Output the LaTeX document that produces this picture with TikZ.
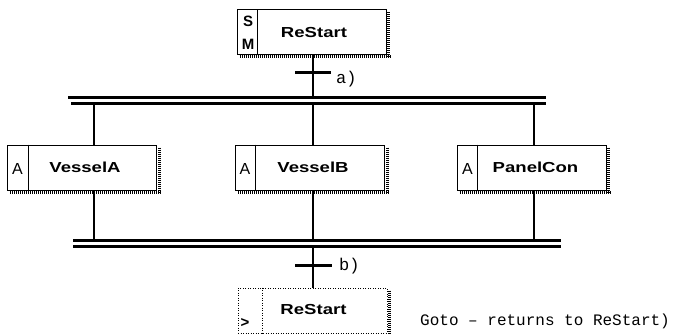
\documentclass[tikz,border=0pt]{standalone}
\usepackage{fontspec}
\setmainfont{Liberation Sans}
\newfontfamily\labfont[FakeStretch=1.28]{Liberation Sans}
\newfontfamily\monofont{Liberation Mono}
\begin{document}
\begin{tikzpicture}[x=1pt,y=-1pt,
  stepbox/.style={draw, line width=1pt, minimum width=149pt, minimum height=45pt, inner sep=0pt,
    font=\labfont\bfseries\fontsize{14.5}{14.5}\selectfont},
  gotobox/.style={stepbox, draw, dash pattern=on 1pt off 1.5pt},
  shadowline/.style={line width=3pt, dash pattern=on 1pt off 1pt},
  divider/.style={line width=1pt},
  dotdivider/.style={line width=1pt, dash pattern=on 1pt off 1.5pt},
  qual/.style={inner sep=0pt, font=\fontsize{16}{16}\selectfont},
  bqual/.style={inner sep=0pt, font=\bfseries\fontsize{15}{15}\selectfont},
  conn/.style={line width=2.5pt},
  bar/.style={line width=3pt},
  translabel/.style={inner sep=0pt, anchor=west, font=\monofont\fontsize{17}{17}\selectfont},
]
\useasboundingbox (0,0) rectangle (679,334);
% step boxes
\node[stepbox] (top) at (311.5,32.5) {\hspace*{5pt}ReStart};
\node[stepbox] (va) at (82,167.5) {\hspace*{6pt}VesselA};
\node[stepbox] (vb) at (310,167.5) {\hspace*{6pt}VesselB};
\node[stepbox] (pc) at (531.5,167.5) {\hspace*{8pt}PanelCon};
\node[gotobox] (bot) at (312.5,310.5) {\raisebox{2pt}{\hspace*{2pt}ReStart}};
% shadows
\foreach \n in {top,va,vb,pc,bot}{
  \draw[shadowline] ([xshift=2pt,yshift=-3pt]\n.north east) -- ([xshift=2pt,yshift=-1.5pt]\n.south east);
  \draw[shadowline] ([xshift=3pt,yshift=-1.5pt]\n.south west) -- ([xshift=3.5pt,yshift=-1.5pt]\n.south east);
}
% dividers
\draw[divider] ([xshift=21pt]top.north west) -- ([xshift=21pt]top.south west);
\draw[divider] ([xshift=21pt]va.north west) -- ([xshift=21pt]va.south west);
\draw[divider] ([xshift=20pt]vb.north west) -- ([xshift=20pt]vb.south west);
\draw[divider] ([xshift=21pt]pc.north west) -- ([xshift=21pt]pc.south west);
\draw[dotdivider] ([xshift=25pt]bot.north west) -- ([xshift=25pt]bot.south west);
% qualifiers
\node[bqual] (qs) at (248,21) {S};
\node[bqual] (qm) at (248,44) {M};
\node[qual] (qa1) at (17.5,169) {A};
\node[qual] (qa2) at (245,169) {A};
\node[qual] (qa3) at (467.5,169) {A};
\node[bqual] (qj) at (245,323) {>};
% double bars
\coordinate (d1aL) at (68,97.5);  \coordinate (d1aR) at (546,97.5);
\coordinate (d1bL) at (71,104);   \coordinate (d1bR) at (546,104);
\coordinate (d2aL) at (73,240.5); \coordinate (d2aR) at (561,240.5);
\coordinate (d2bL) at (73,246.5); \coordinate (d2bR) at (561,246.5);
\draw[bar] (d1aL) -- (d1aR);
\draw[bar] (d1bL) -- (d1bR);
\draw[bar] (d2aL) -- (d2aR);
\draw[line width=2.5pt] (d2bL) -- (d2bR);
% connectors
\draw[conn] (top.south -| 313,0) -- (313,97.5);
\draw[conn] (313,104) -- (vb.north -| 313,0);
\draw[conn] (94,104) -- (va.north -| 94,0);
\draw[conn] (534,104) -- (pc.north -| 534,0);
\draw[conn] (va.south -| 94,0) -- (94,240.5);
\draw[conn] (vb.south -| 313,0) -- (313,240.5);
\draw[conn] (pc.south -| 534,0) -- (534,240.5);
\draw[conn] (313,246.5) -- (bot.north -| 313,0);
% transitions
\coordinate (ta1) at (295,73); \coordinate (ta2) at (331,73);
\coordinate (tb1) at (295,265); \coordinate (tb2) at (332,265);
\draw[bar] (ta1) -- (ta2);
\draw[bar] (tb1) -- (tb2);
\node[translabel] (la) at (336,79) {a)};
\node[translabel] (lb) at (339,266) {b)};
% comment
\node[inner sep=0pt, anchor=west, font=\monofont\fontsize{16}{16}\selectfont] (cm) at (420,321) {Goto – returns to ReStart)};
\end{tikzpicture}
\end{document}
